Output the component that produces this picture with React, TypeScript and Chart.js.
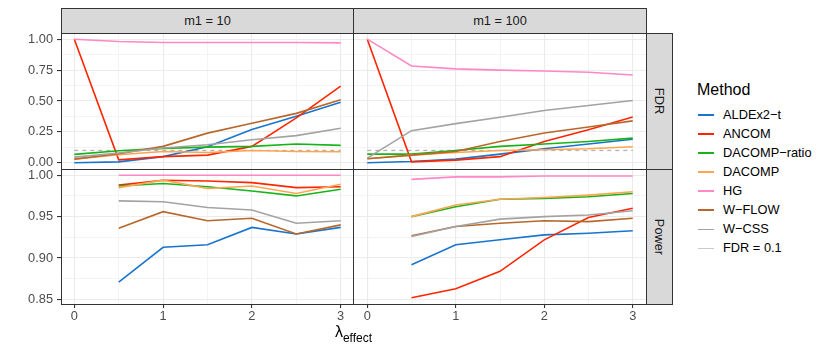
import React, { useEffect, useRef } from 'react';
import { Chart, registerables } from 'chart.js';

Chart.register(...registerables);

// ---------- data ----------
const LAMBDA = [0, 0.5, 1, 1.5, 2, 2.5, 3];
const X_TICKS = [0, 0.5, 1, 1.5, 2, 2.5, 3];
const X_MAJOR = [0, 1, 2, 3];
const FDR_TICKS = [0, 0.125, 0.25, 0.375, 0.5, 0.625, 0.75, 0.875, 1];
const FDR_MAJOR = [0, 0.25, 0.5, 0.75, 1];
const POWER_TICKS = [0.85, 0.875, 0.9, 0.925, 0.95, 0.975, 1];
const POWER_MAJOR = [0.85, 0.9, 0.95, 1];

const COL_LABELS = ['m1 = 10', 'm1 = 100'];
const ROW_LABELS = ['FDR', 'Power'];
const METHODS = ['ALDEx2\u2212t', 'ANCOM', 'DACOMP\u2212ratio', 'DACOMP', 'HG', 'W\u2212FLOW', 'W\u2212CSS'];
const COLORS = ['#1874CD', '#FF2500', '#17B317', '#FFA552', '#FF88C6', '#B8672B', '#A3A3A3'];
const REF_LABEL = 'FDR = 0.1';
const REF_LEVEL = 0.1;
const REF_COLOR = '#B0B0B0';
const REF_KEY_COLOR = '#CACACA';

// FDR, m1 = 10
const FDR10_ALDEX = [0.0, 0.008, 0.05, 0.13, 0.27, 0.377, 0.49];
const FDR10_ANCOM = [1.0, 0.024, 0.05, 0.062, 0.133, 0.363, 0.62];
const FDR10_DACOMP_RATIO = [0.068, 0.098, 0.117, 0.127, 0.133, 0.152, 0.141];
const FDR10_DACOMP = [0.03, 0.065, 0.092, 0.084, 0.1, 0.092, 0.09];
const FDR10_HG = [1.0, 0.981, 0.973, 0.973, 0.973, 0.973, 0.97];
const FDR10_WFLOW = [0.03, 0.073, 0.133, 0.24, 0.32, 0.4, 0.51];
const FDR10_WCSS = [0.046, 0.08, 0.12, 0.146, 0.187, 0.22, 0.28];

// FDR, m1 = 100
const FDR100_ALDEX = [0.0, 0.011, 0.03, 0.07, 0.114, 0.152, 0.19];
const FDR100_ANCOM = [1.0, 0.008, 0.022, 0.05, 0.173, 0.268, 0.371];
const FDR100_DACOMP_RATIO = [0.07, 0.07, 0.1, 0.133, 0.152, 0.173, 0.2];
const FDR100_DACOMP = [0.033, 0.062, 0.084, 0.1, 0.106, 0.114, 0.13];
const FDR100_HG = [1.0, 0.783, 0.76, 0.75, 0.743, 0.732, 0.71];
const FDR100_WFLOW = [0.033, 0.062, 0.092, 0.173, 0.241, 0.29, 0.339];
const FDR100_WCSS = [0.038, 0.26, 0.317, 0.369, 0.423, 0.463, 0.504];

// Power, m1 = 10
const POW10_ALDEX = [null, 0.871, 0.913, 0.916, 0.937, 0.929, 0.937];
const POW10_ANCOM = [null, 0.988, 0.994, 0.993, 0.991, 0.985, 0.986];
const POW10_DACOMP_RATIO = [null, 0.987, 0.99, 0.986, 0.981, 0.975, 0.983];
const POW10_DACOMP = [null, 0.985, 0.994, 0.984, 0.987, 0.978, 0.989];
const POW10_HG = [null, 1.0, 1.0, 1.0, 1.0, 1.0, 1.0];
const POW10_WFLOW = [null, 0.936, 0.956, 0.945, 0.948, 0.929, 0.94];
const POW10_WCSS = [null, 0.969, 0.968, 0.961, 0.958, 0.942, 0.945];

// Power, m1 = 100
const POW100_ALDEX = [null, 0.892, 0.916, 0.922, 0.928, 0.93, 0.933];
const POW100_ANCOM = [null, 0.852, 0.863, 0.884, 0.922, 0.949, 0.96];
const POW100_DACOMP_RATIO = [null, 0.95, 0.962, 0.971, 0.972, 0.974, 0.978];
const POW100_DACOMP = [null, 0.95, 0.964, 0.971, 0.973, 0.976, 0.98];
const POW100_HG = [null, 0.995, 0.998, 0.998, 0.999, 0.999, 0.999];
const POW100_WFLOW = [null, 0.927, 0.938, 0.942, 0.945, 0.944, 0.948];
const POW100_WCSS = [null, 0.926, 0.938, 0.947, 0.95, 0.952, 0.957];

const FDR10 = [FDR10_ALDEX, FDR10_ANCOM, FDR10_DACOMP_RATIO, FDR10_DACOMP, FDR10_HG, FDR10_WFLOW, FDR10_WCSS];
const FDR100 = [FDR100_ALDEX, FDR100_ANCOM, FDR100_DACOMP_RATIO, FDR100_DACOMP, FDR100_HG, FDR100_WFLOW, FDR100_WCSS];
const POW10 = [POW10_ALDEX, POW10_ANCOM, POW10_DACOMP_RATIO, POW10_DACOMP, POW10_HG, POW10_WFLOW, POW10_WCSS];
const POW100 = [POW100_ALDEX, POW100_ANCOM, POW100_DACOMP_RATIO, POW100_DACOMP, POW100_HG, POW100_WFLOW, POW100_WCSS];

// ---------- layout ----------
const FONT = '"Liberation Sans", Arial, Helvetica, sans-serif';
const PANEL_L = 61;
const PANEL_MID = 354;
const PANEL_R = 646;
const STRIP_TOP = 8;
const ROW_TOP = 33;
const ROW_MID = 169;
const ROW_BOT = 304;
const STRIP_R = 672;
const BORDER = '#333333';
const STRIP_BG = '#D9D9D9';

const isIn = (arr: number[], v: number) => arr.some((m) => Math.abs(m - v) < 1e-9);

type PanelProps = {
  left: number;
  top: number;
  width: number;
  height: number;
  series: (number | null)[][];
  ref_line: boolean;
  yMin: number;
  yMax: number;
  yTicks: number[];
  yMajor: number[];
  showY: boolean;
  showX: boolean;
  yAxisW: number;
  xAxisH: number;
};

function Panel(p: PanelProps) {
  const ref = useRef<HTMLCanvasElement>(null);
  useEffect(() => {
    if (!ref.current) return;
    const datasets: any[] = [];
    if (p.ref_line) {
      datasets.push({
        label: REF_LABEL,
        data: [
          { x: LAMBDA[0], y: REF_LEVEL },
          { x: LAMBDA[LAMBDA.length - 1], y: REF_LEVEL },
        ],
        borderColor: REF_COLOR,
        borderWidth: 1.3,
        borderDash: [4, 4],
        pointRadius: 0,
        fill: false,
        order: 100,
      });
    }
    p.series.forEach((s, i) => {
      datasets.push({
        label: METHODS[i],
        data: LAMBDA.map((x, j) => ({ x, y: s[j] })).filter((d) => d.y !== null),
        borderColor: COLORS[i],
        backgroundColor: COLORS[i],
        borderWidth: 1.6,
        pointRadius: 0,
        fill: false,
        tension: 0,
        order: 50 - i,
      });
    });
    const zeroPad = (s: any) => {
      s.paddingLeft = 0;
      s.paddingRight = 0;
      s.paddingTop = 0;
      s.paddingBottom = 0;
    };
    const chart = new Chart(ref.current, {
      type: 'line',
      data: { datasets },
      options: {
        animation: false,
        responsive: false,
        maintainAspectRatio: false,
        devicePixelRatio: 1,
        events: [],
        layout: { padding: 0 },
        plugins: { legend: { display: false }, tooltip: { enabled: false } },
        scales: {
          x: {
            type: 'linear',
            min: -0.15,
            max: 3.15,
            afterBuildTicks: (s: any) => {
              s.ticks = X_TICKS.map((v) => ({ value: v }));
            },
            afterFit: (s: any) => {
              s.height = p.xAxisH;
              zeroPad(s);
            },
            border: { display: false },
            grid: {
              color: '#EBEBEB',
              lineWidth: (c: any) => (c.tick && isIn(X_MAJOR, c.tick.value) ? 1.1 : 0.55),
              drawTicks: p.showX,
              tickLength: 4,
              tickWidth: 1.1,
              tickColor: (c: any) => (c.tick && isIn(X_MAJOR, c.tick.value) ? BORDER : 'rgba(0,0,0,0)'),
            },
            ticks: {
              display: p.showX,
              autoSkip: false,
              maxRotation: 0,
              minRotation: 0,
              padding: 1,
              color: '#4D4D4D',
              font: { family: FONT, size: 12.8 },
              callback: (v: any) => (isIn(X_MAJOR, Number(v)) ? String(v) : ''),
            },
          },
          y: {
            type: 'linear',
            min: p.yMin,
            max: p.yMax,
            afterBuildTicks: (s: any) => {
              s.ticks = p.yTicks.map((v) => ({ value: v }));
            },
            afterFit: (s: any) => {
              s.width = p.yAxisW;
              zeroPad(s);
            },
            border: { display: false },
            grid: {
              color: '#EBEBEB',
              lineWidth: (c: any) => (c.tick && isIn(p.yMajor, c.tick.value) ? 1.1 : 0.55),
              drawTicks: p.showY,
              tickLength: 4,
              tickWidth: 1.1,
              tickColor: (c: any) => (c.tick && isIn(p.yMajor, c.tick.value) ? BORDER : 'rgba(0,0,0,0)'),
            },
            ticks: {
              display: p.showY,
              autoSkip: false,
              padding: 4,
              color: '#4D4D4D',
              font: { family: FONT, size: 12.8 },
              callback: (v: any) => (isIn(p.yMajor, Number(v)) ? Number(v).toFixed(2) : ''),
            },
          },
        },
      } as any,
    });
    return () => chart.destroy();
  }, []);
  return (
    <canvas
      ref={ref}
      width={p.width}
      height={p.height}
      style={{ position: 'absolute', left: p.left, top: p.top, width: p.width, height: p.height, display: 'block' }}
    />
  );
}

function Box({ l, t, r, b, bg }: { l: number; t: number; r: number; b: number; bg?: string }) {
  return (
    <div
      style={{
        position: 'absolute',
        left: l,
        top: t,
        width: r - l + 1,
        height: b - t + 1,
        boxSizing: 'border-box',
        border: `1px solid ${BORDER}`,
        background: bg || 'transparent',
        pointerEvents: 'none',
      }}
    />
  );
}

export default function App() {
  const legendItems = [...METHODS.map((m, i) => ({ label: m, color: COLORS[i] })), { label: REF_LABEL, color: REF_KEY_COLOR }];
  return (
    <div
      style={{
        position: 'fixed',
        left: 0,
        top: 0,
        width: 830,
        height: 356,
        background: '#FFFFFF',
        fontFamily: FONT,
        overflow: 'hidden',
      }}
    >
      {/* panels */}
      <Panel left={0} top={ROW_TOP} width={PANEL_MID} height={ROW_MID - ROW_TOP} series={FDR10} ref_line={true}
        yMin={-0.05} yMax={1.05} yTicks={FDR_TICKS} yMajor={FDR_MAJOR} showY={true} showX={false} yAxisW={PANEL_L} xAxisH={0} />
      <Panel left={PANEL_MID} top={ROW_TOP} width={PANEL_R - PANEL_MID} height={ROW_MID - ROW_TOP} series={FDR100} ref_line={true}
        yMin={-0.05} yMax={1.05} yTicks={FDR_TICKS} yMajor={FDR_MAJOR} showY={false} showX={false} yAxisW={0} xAxisH={0} />
      <Panel left={0} top={ROW_MID} width={PANEL_MID} height={356 - ROW_MID} series={POW10} ref_line={false}
        yMin={0.8445} yMax={1.0075} yTicks={POWER_TICKS} yMajor={POWER_MAJOR} showY={true} showX={true} yAxisW={PANEL_L} xAxisH={356 - ROW_BOT} />
      <Panel left={PANEL_MID} top={ROW_MID} width={PANEL_R - PANEL_MID} height={356 - ROW_MID} series={POW100} ref_line={false}
        yMin={0.8445} yMax={1.0075} yTicks={POWER_TICKS} yMajor={POWER_MAJOR} showY={false} showX={true} yAxisW={0} xAxisH={356 - ROW_BOT} />

      {/* panel borders */}
      <Box l={PANEL_L} t={ROW_TOP} r={PANEL_MID - 1} b={ROW_MID} />
      <Box l={PANEL_MID - 1} t={ROW_TOP} r={PANEL_R} b={ROW_MID} />
      <Box l={PANEL_L} t={ROW_MID} r={PANEL_MID - 1} b={ROW_BOT} />
      <Box l={PANEL_MID - 1} t={ROW_MID} r={PANEL_R} b={ROW_BOT} />

      {/* top strips */}
      {COL_LABELS.map((lab, i) => {
        const l = i === 0 ? PANEL_L : PANEL_MID - 1;
        const r = i === 0 ? PANEL_MID - 1 : PANEL_R;
        return (
          <React.Fragment key={lab}>
            <Box l={l} t={STRIP_TOP} r={r} b={ROW_TOP} bg={STRIP_BG} />
            <div
              style={{
                position: 'absolute',
                left: l,
                top: STRIP_TOP,
                width: r - l + 1,
                height: ROW_TOP - STRIP_TOP + 1,
                lineHeight: `${ROW_TOP - STRIP_TOP + 1}px`,
                textAlign: 'center',
                fontSize: 12.8,
                color: '#1A1A1A',
              }}
            >
              {lab}
            </div>
          </React.Fragment>
        );
      })}

      {/* right strips */}
      {ROW_LABELS.map((lab, i) => {
        const t = i === 0 ? ROW_TOP : ROW_MID;
        const b = i === 0 ? ROW_MID : ROW_BOT;
        const cy = (t + b) / 2;
        const cx = (PANEL_R + STRIP_R) / 2;
        return (
          <React.Fragment key={lab}>
            <Box l={PANEL_R} t={t} r={STRIP_R} b={b} bg={STRIP_BG} />
            <div
              style={{
                position: 'absolute',
                left: cx - 50,
                top: cy - 10,
                width: 100,
                height: 20,
                lineHeight: '20px',
                textAlign: 'center',
                fontSize: 12.8,
                color: '#1A1A1A',
                transform: 'rotate(90deg)',
              }}
            >
              {lab}
            </div>
          </React.Fragment>
        );
      })}

      {/* x axis title */}
      <div
        style={{
          position: 'absolute',
          left: PANEL_L,
          top: 322,
          width: PANEL_R - PANEL_L,
          height: 24,
          lineHeight: '20px',
          textAlign: 'center',
          fontSize: 16,
          color: '#000000',
          whiteSpace: 'nowrap',
        }}
      >
        λ<span style={{ fontSize: 12, position: 'relative', top: 5 }}>effect</span>
      </div>

      {/* legend */}
      <div style={{ position: 'absolute', left: 697, top: 80, fontSize: 16, lineHeight: '20px', color: '#000' }}>Method</div>
      {legendItems.map((it, i) => {
        const cy = 115 + i * 19.05;
        return (
          <React.Fragment key={it.label}>
            <div
              style={{
                position: 'absolute',
                left: 698,
                top: cy - 0.8,
                width: 16,
                height: 1.6,
                background: it.color,
              }}
            />
            <div
              style={{
                position: 'absolute',
                left: 723,
                top: cy - 9,
                height: 18,
                lineHeight: '18px',
                fontSize: 12.8,
                color: '#000',
                whiteSpace: 'nowrap',
              }}
            >
              {it.label}
            </div>
          </React.Fragment>
        );
      })}
    </div>
  );
}
